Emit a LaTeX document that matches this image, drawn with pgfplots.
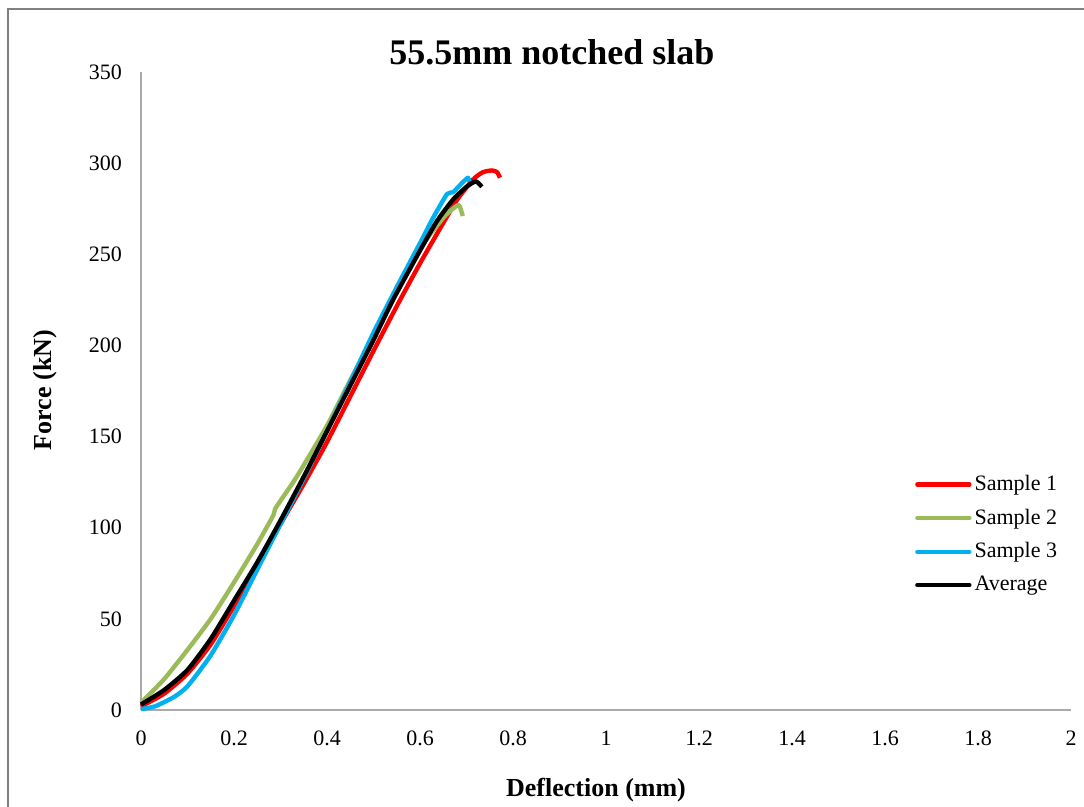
\documentclass[border=0pt]{standalone}
\usepackage{pgfplots}
\pgfplotsset{compat=1.18}
\usepackage{fontspec}
\setmainfont{Liberation Serif}
\definecolor{sOne}{RGB}{255,0,0}
\definecolor{sTwo}{RGB}{155,187,89}
\definecolor{sThree}{RGB}{0,176,240}
\definecolor{axgray}{RGB}{170,170,170}
\definecolor{bordergray}{RGB}{128,128,128}
\begin{document}
\begin{tikzpicture}
\useasboundingbox (0,0) rectangle (542bp,403.5bp);
\draw[bordergray, line width=1.2bp] (4bp,-2bp) -- (4bp,399bp) -- (546bp,399bp);
\node[font=\fontsize{18bp}{21bp}\selectfont\bfseries] at (276bp,377.5bp) {55.5mm notched slab};
\node[font=\fontsize{13bp}{15bp}\selectfont\bfseries, rotate=90] at (22.5bp,208.5bp) {Force (kN)};
\node[font=\fontsize{13bp}{15bp}\selectfont\bfseries] at (298bp,8.5bp) {Deflection (mm)};
\begin{axis}[
  at={(70.5bp,48.5bp)}, anchor=south west,
  scale only axis, width=465bp, height=319bp,
  xmin=0, xmax=2, ymin=0, ymax=350,
  axis x line*=bottom, axis y line*=left,
  axis line style={draw=axgray, line width=0.8bp, -},
  xtick={0,0.2,0.4,0.6,0.8,1,1.2,1.4,1.6,1.8,2},
  xticklabels={0,0.2,0.4,0.6,0.8,1,1.2,1.4,1.6,1.8,2},
  ytick={0,50,100,150,200,250,300,350},
  major tick length=0pt,
  tick style={draw=none},
  /pgf/number format/assume math mode=true,
  ticklabel style={font=\fontsize{11bp}{13bp}\selectfont},
  xticklabel style={yshift=-7bp},
  yticklabel style={xshift=-6bp},
  clip=false,
  legend style={at={(0.832,0.373)}, anchor=north west, draw=none, fill=none,
    font=\fontsize{11bp}{13bp}\selectfont, row sep=4.7bp, inner sep=0pt,
    nodes={inner sep=1.5bp}},
  legend cell align=left,
  legend image code/.code={\draw[#1, line width=2.2bp, line cap=round] (0bp,0bp) -- (26bp,0bp);},
  every axis plot/.append style={line width=2.2bp, line join=round, smooth, tension=0.35},
]
\addplot[sOne, no marks] coordinates {
(0,2) (0.05,9) (0.1,20) (0.15,36) (0.2,57) (0.25,79) (0.3,102) (0.35,124)
(0.4,147) (0.45,172) (0.5,197) (0.551,222) (0.6,245) (0.645,265) (0.68,280)
(0.714,291) (0.735,295) (0.755,296) (0.766,295) (0.772,292)};
\addlegendentry{Sample 1}
\addplot[sTwo, no marks] coordinates {
(0,4) (0.05,17) (0.1,33) (0.15,50) (0.2,70) (0.25,91) (0.285,107)
(0.29,111) (0.335,128) (0.4,156) (0.45,181) (0.5,205) (0.531,221)
(0.6,253) (0.65,270) (0.671,275) (0.684,277) (0.692,271)};
\addlegendentry{Sample 2}
\addplot[sThree, no marks] coordinates {
(0,0.5) (0.03,2) (0.07,7) (0.1,13) (0.15,30) (0.2,52) (0.25,77) (0.3,102)
(0.35,127) (0.4,153) (0.45,180) (0.5,207) (0.55,232) (0.606,259) (0.626,269)
(0.658,283) (0.671,284) (0.69,289) (0.703,292) (0.706,290)};
\addlegendentry{Sample 3}
\addplot[black, no marks] coordinates {
(0,3) (0.05,11) (0.1,22) (0.15,39) (0.2,60) (0.25,81) (0.3,104) (0.35,128)
(0.4,153) (0.45,178) (0.5,203) (0.542,225) (0.6,252) (0.636,268)
(0.671,280) (0.7,287) (0.72,290) (0.733,287)};
\addlegendentry{Average}
\end{axis}
\end{tikzpicture}
\end{document}
